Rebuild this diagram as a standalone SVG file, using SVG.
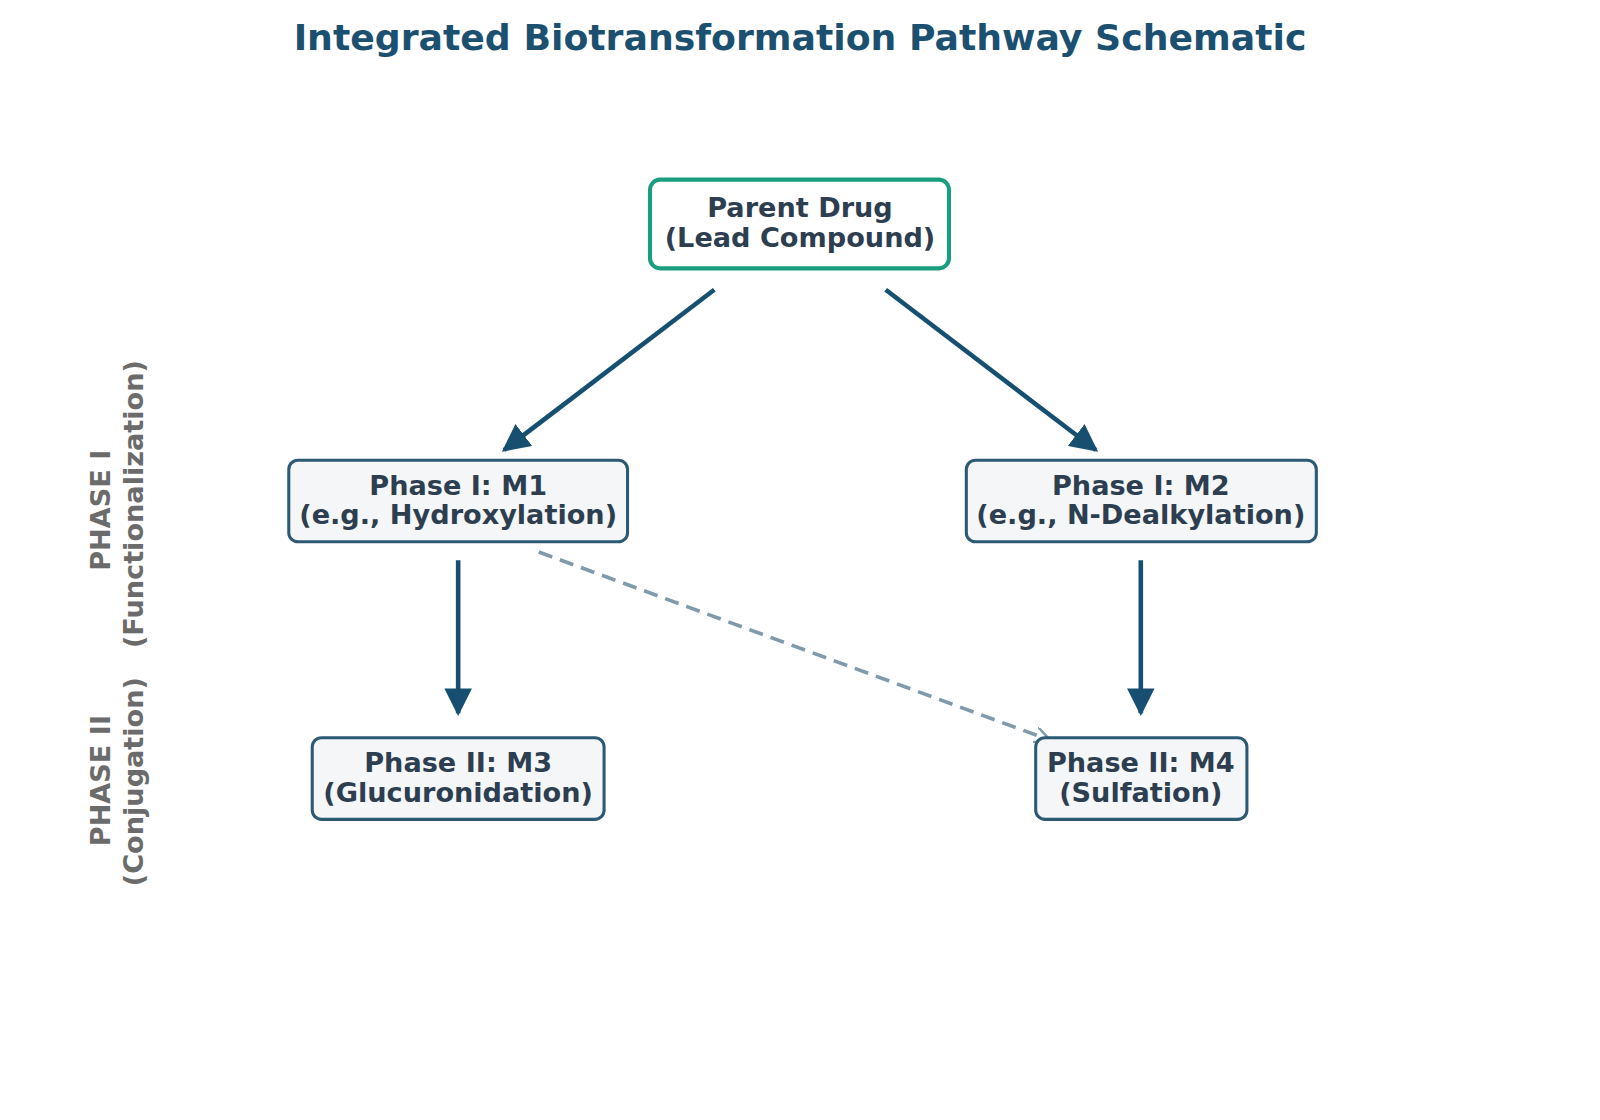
<svg xmlns="http://www.w3.org/2000/svg" width="1600" height="1120" viewBox="0 0 1600 1120">
<style>
text{font-family:"DejaVu Sans","Liberation Sans",sans-serif;font-weight:bold;text-anchor:middle}
.t{font-size:26.6px;fill:#2c3e50}
.box{fill:#f4f6f7;stroke:#2c5a75;stroke-width:3}
.side{font-size:26.6px;fill:#6b6b6b}
.arr{stroke:#174f70;stroke-width:4.5;fill:none}
</style>
<defs>
<marker id="ah" viewBox="0 0 10 10" refX="9" refY="5" markerWidth="6" markerHeight="6" markerUnits="strokeWidth" orient="auto"><path d="M0,0 L10,5 L0,10 z" fill="#174f70"/></marker>
<marker id="ad" viewBox="0 0 10 10" refX="9" refY="5" markerWidth="4.5" markerHeight="4.5" markerUnits="strokeWidth" orient="auto"><path d="M0,0 L10,5 L0,10" fill="none" stroke="#7f9aab" stroke-width="1.5"/></marker>
</defs>
<rect width="1600" height="1120" fill="#ffffff"/>
<g transform="scale(1.0204)">
<text x="784" y="49" style="font-size:35.5px;fill:#1b5070">Integrated Biotransformation Pathway Schematic</text>
<g id="labels">
<text class="side" transform="translate(108,500) rotate(-90)">PHASE I</text>
<text class="side" transform="translate(140,494) rotate(-90)">(Functionalization)</text>
<text class="side" transform="translate(108,765) rotate(-90)">PHASE II</text>
<text class="side" transform="translate(140,766) rotate(-90)">(Conjugation)</text>
</g>
<g id="connectors">
<line class="arr" x1="700" y1="284" x2="494" y2="441" marker-end="url(#ah)"/>
<line class="arr" x1="868" y1="284" x2="1074" y2="441" marker-end="url(#ah)"/>
<line class="arr" x1="449" y1="549" x2="449" y2="699" marker-end="url(#ah)"/>
<line class="arr" x1="1118" y1="549" x2="1118" y2="699" marker-end="url(#ah)"/>
<line x1="528" y1="541" x2="1028" y2="725" stroke="#7f9aab" stroke-width="3.5" stroke-dasharray="14,8" marker-end="url(#ad)"/>
</g>
<g id="parent"><rect x="637" y="176" width="293" height="87" rx="10" fill="#fff" stroke="#1a9e80" stroke-width="4"/>
<text class="t" x="784" y="213">Parent Drug</text><text class="t" x="784" y="242">(Lead Compound)</text></g>
<g id="m1"><rect class="box" x="283" y="451" width="332" height="80" rx="9"/>
<text class="t" x="449" y="485">Phase I: M1</text><text class="t" x="449" y="514">(e.g., Hydroxylation)</text></g>
<g id="m2"><rect class="box" x="947" y="451" width="343" height="80" rx="9"/>
<text class="t" x="1118" y="485">Phase I: M2</text><text class="t" x="1118" y="514">(e.g., N-Dealkylation)</text></g>
<g id="m3"><rect class="box" x="306" y="723" width="286" height="80" rx="9"/>
<text class="t" x="449" y="757">Phase II: M3</text><text class="t" x="449" y="786">(Glucuronidation)</text></g>
<g id="m4"><rect class="box" x="1015" y="723" width="207" height="80" rx="9"/>
<text class="t" x="1118" y="757">Phase II: M4</text><text class="t" x="1118" y="786">(Sulfation)</text></g>
</g>
</svg>
